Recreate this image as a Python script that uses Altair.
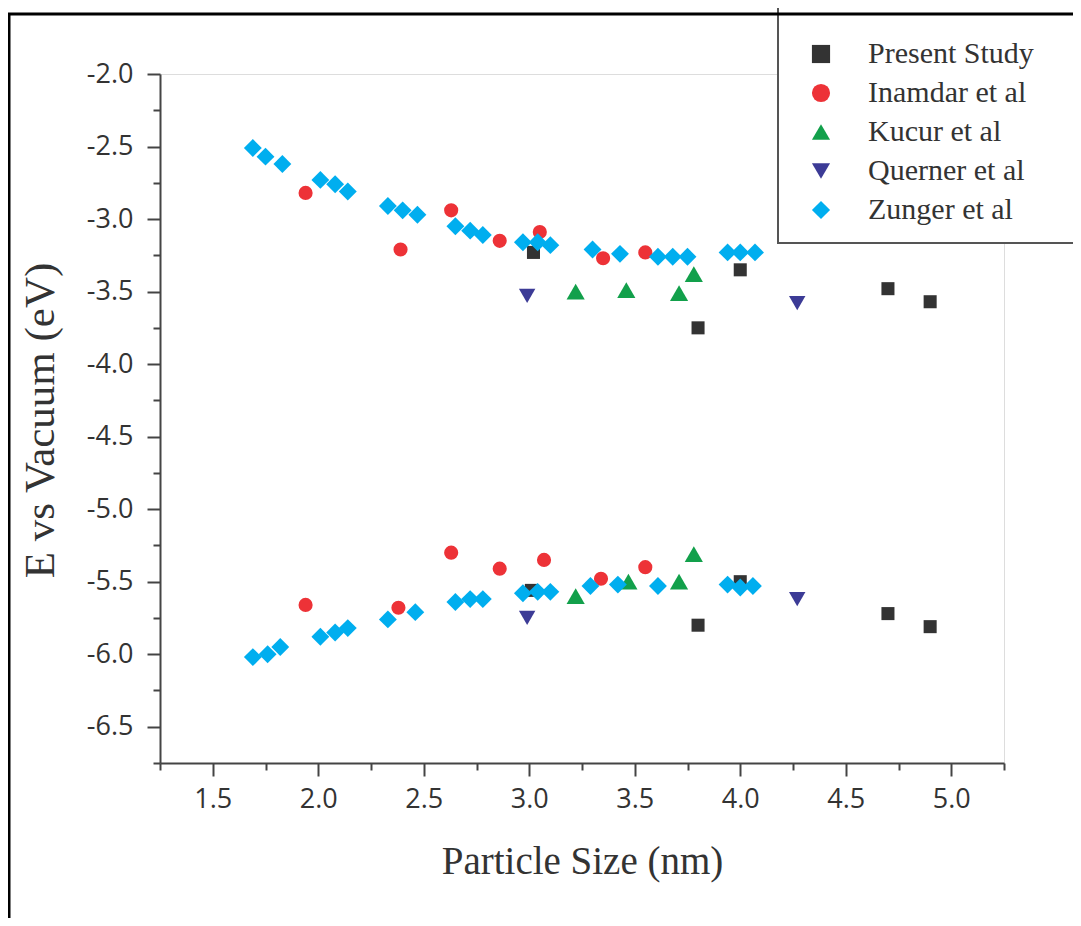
import altair as alt
import pandas as pd

# ---------------- data ----------------
series_names = ["Present Study", "Inamdar et al", "Kucur et al", "Querner et al", "Zunger et al"]
series_colors = ["#333333", "#ED3237", "#12A04B", "#3C3B96", "#00AEEF"]
series_shapes = ["square", "circle", "triangle-up", "triangle-down", "diamond"]
series_sizes = [170, 200, 330, 270, 320]

present_x = [3.02, 3.80, 4.00, 4.70, 4.90, 3.01, 3.80, 4.00, 4.70, 4.90]
present_y = [-3.23, -3.75, -3.35, -3.48, -3.57, -5.56, -5.80, -5.50, -5.72, -5.81]

inamdar_x = [1.94, 2.39, 2.63, 2.86, 3.05, 3.35, 3.55, 1.94, 2.38, 2.63, 2.86, 3.07, 3.34, 3.55]
inamdar_y = [-2.82, -3.21, -2.94, -3.15, -3.09, -3.27, -3.23, -5.66, -5.68, -5.30, -5.41, -5.35, -5.48, -5.40]

kucur_x = [3.22, 3.46, 3.71, 3.78, 3.22, 3.47, 3.71, 3.78]
kucur_y = [-3.50, -3.49, -3.51, -3.38, -5.60, -5.50, -5.50, -5.31]

querner_x = [2.99, 4.27, 2.99, 4.27]
querner_y = [-3.53, -3.58, -5.75, -5.62]

zunger_x = [1.69, 1.75, 1.83, 2.01, 2.08, 2.14, 2.33, 2.40, 2.47, 2.65, 2.72, 2.78,
            2.97, 3.04, 3.10, 3.30, 3.43, 3.61, 3.68, 3.75, 3.94, 4.00, 4.07,
            1.69, 1.76, 1.82, 2.01, 2.08, 2.14, 2.33, 2.46, 2.65, 2.72, 2.78,
            2.97, 3.04, 3.10, 3.29, 3.42, 3.61, 3.94, 4.00, 4.06]
zunger_y = [-2.51, -2.57, -2.62, -2.73, -2.76, -2.81, -2.91, -2.94, -2.97, -3.05, -3.08, -3.11,
            -3.16, -3.16, -3.18, -3.21, -3.24, -3.26, -3.26, -3.26, -3.23, -3.23, -3.23,
            -6.02, -6.00, -5.95, -5.88, -5.85, -5.82, -5.76, -5.71, -5.64, -5.62, -5.62,
            -5.58, -5.57, -5.57, -5.53, -5.52, -5.53, -5.52, -5.54, -5.53]

x_ticks = [1.25 + 0.25 * i for i in range(17)]
y_ticks = [-2.0 - 0.25 * i for i in range(20)]

series_x = [present_x, inamdar_x, kucur_x, querner_x, zunger_x]
series_y = [present_y, inamdar_y, kucur_y, querner_y, zunger_y]

W, H = 844, 689
TICK_FONT = "Open Sans"
TITLE_FONT = "Liberation Serif"
AX_COLOR = "#444444"
TXT_COLOR = "#333333"

x_axis = alt.Axis(
    values=x_ticks,
    labelExpr="datum.value % 0.5 === 0 ? format(datum.value, '.1f') : ''",
    tickSize={"condition": {"test": "datum.value % 0.5 === 0", "value": 13}, "value": 7},
    tickWidth=2, tickColor=AX_COLOR, domainColor=AX_COLOR, domainWidth=2,
    labelFont=TICK_FONT, labelFontSize=27, labelColor=TXT_COLOR, labelPadding=10,
    labelFlush=False, labelOverlap=False,
    grid=False,
    title="Particle Size (nm)", titleFont=TITLE_FONT, titleFontSize=39,
    titleFontWeight="normal", titleColor=TXT_COLOR,
    titleX=W / 2, titleY=98, titleBaseline="middle", titleAnchor="middle",
)

y_axis = alt.Axis(
    values=y_ticks,
    labelExpr="datum.value % 0.5 === 0 ? '-' + format(-datum.value, '.1f') : ''",
    tickSize={"condition": {"test": "datum.value % 0.5 === 0", "value": 13}, "value": 7},
    tickWidth=2, tickColor=AX_COLOR, domainColor=AX_COLOR, domainWidth=2,
    labelFont=TICK_FONT, labelFontSize=27, labelColor=TXT_COLOR, labelPadding=14,
    labelFlush=False, labelOverlap=False,
    grid=False,
    title="E vs Vacuum (eV)", titleFont=TITLE_FONT, titleFontSize=43,
    titleFontWeight="normal", titleColor=TXT_COLOR,
    titleX=-120, titleY=346, titleBaseline="middle", titleAngle=270,
)

legend = alt.Legend(
    title=None, orient="none", legendX=646, legendY=-35,
    labelFont=TITLE_FONT, labelFontSize=30, labelColor=TXT_COLOR,
    labelOffset=32, labelLimit=400, rowPadding=9, padding=0,
    symbolSize=330, symbolStrokeWidth=0, symbolOpacity=1,
)

x_enc = alt.X("size_nm:Q", scale=alt.Scale(domain=[1.25, 5.25], nice=False, zero=False), axis=x_axis)
y_enc = alt.Y("energy:Q", scale=alt.Scale(domain=[-6.75, -2.0], nice=False, zero=False), axis=y_axis)
c_enc = alt.Color("series:N", scale=alt.Scale(domain=series_names, range=series_colors), legend=legend)
s_enc = alt.Shape("series:N", scale=alt.Scale(domain=series_names, range=series_shapes), legend=legend)

point_layers = []
for name, xs, ys, sz in zip(series_names, series_x, series_y, series_sizes):
    d = pd.DataFrame({"series": [name] * len(xs), "size_nm": xs, "energy": ys})
    point_layers.append(
        alt.Chart(d).mark_point(filled=True, opacity=1, strokeWidth=0, size=sz).encode(
            x=x_enc, y=y_enc, color=c_enc, shape=s_enc
        )
    )

deco = pd.DataFrame({"d": [0]})
legend_box = alt.Chart(deco).mark_rect(fill="white", stroke="#555555", strokeWidth=2).encode(
    x=alt.value(618), x2=alt.value(960), y=alt.value(-80), y2=alt.value(169)
)
frame_left = alt.Chart(deco).mark_rule(color="black", strokeWidth=3).encode(
    x=alt.value(-151), y=alt.value(-61), y2=alt.value(900)
)
frame_top = alt.Chart(deco).mark_rule(color="black", strokeWidth=3).encode(
    x=alt.value(-160), x2=alt.value(960), y=alt.value(-60)
)

chart = alt.layer(legend_box, frame_left, frame_top, *point_layers).properties(
    width=W, height=H,
    autosize=alt.AutoSizeParams(type="none"),
    padding={"left": 152, "top": 66, "right": 69, "bottom": 155},
).configure_view(stroke="transparent").configure(background="white")

chart.save("out.html", embed_options={"renderer": "svg", "actions": False})
